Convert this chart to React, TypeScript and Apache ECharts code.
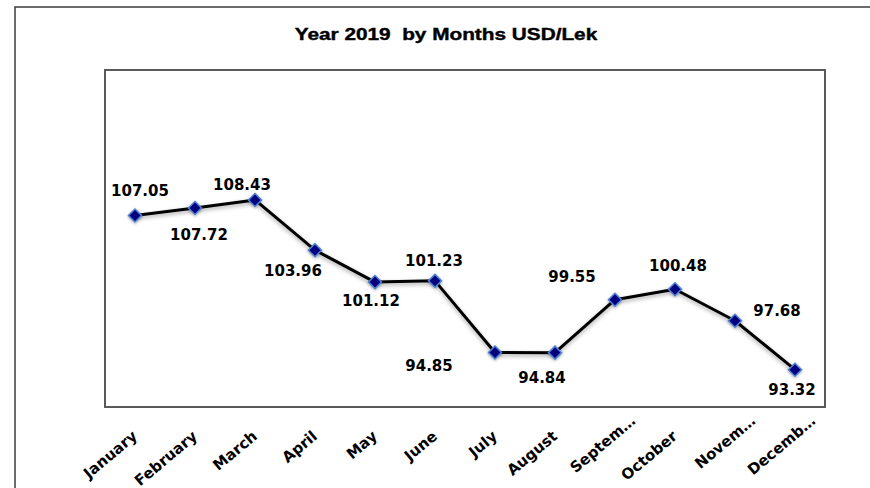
import React, { useEffect, useRef } from "react";
import * as echarts from "echarts";

const titleText = "Year 2019  by Months USD/Lek";
const tickLabels = [
  "January", "February", "March", "April", "May", "June",
  "July", "August", "Septem…", "October", "Novem…", "Decemb…",
];
const rateValues = [107.05, 107.72, 108.43, 103.96, 101.12, 101.23, 94.85, 94.84, 99.55, 100.48, 97.68, 93.32];

// label offsets (styling only) relative to each marker
const labelOffsets: number[][] = [
  [5, -24], [4, 27], [-13, -15], [-22, 21], [-4, 19], [-1, -20],
  [-66, 13], [-13, 25], [-43, -23], [3, -23], [42, -10], [-3, 20],
];

export default function App() {
  const ref = useRef<HTMLDivElement>(null);
  useEffect(() => {
    if (!ref.current) return;
    const chart = echarts.init(ref.current, undefined, { renderer: "svg" });
    chart.setOption({
      animation: false,
      backgroundColor: "#ffffff",
      graphic: [
        {
          type: "rect",
          shape: { x: 15, y: 7, width: 1000, height: 700 },
          style: { fill: "none", stroke: "#3c3c3c", lineWidth: 1.5 },
          silent: true,
        },
        {
          type: "text",
          x: 446,
          y: 34,
          scaleX: 1.26,
          style: {
            text: titleText,
            fontFamily: "Liberation Sans, Arial, sans-serif",
            fontWeight: "bold",
            fontSize: 16.5,
            fill: "#000",
            stroke: "#000",
            lineWidth: 0.4,
            textAlign: "center",
            textVerticalAlign: "middle",
          },
        },
      ],
      grid: {
        show: true,
        left: 105,
        top: 70,
        width: 720,
        height: 337,
        outerBoundsMode: "none",
        containLabel: false,
        borderColor: "#5a5a5a",
        borderWidth: 2,
        backgroundColor: "transparent",
      },
      xAxis: {
        type: "category",
        data: tickLabels.map((t) =>
          t.endsWith("…") ? { value: t, textStyle: { padding: [0, -24, 0, 0] } } : t
        ),
        boundaryGap: true,
        axisLine: { show: false },
        axisTick: { show: false },
        splitLine: { show: false },
        axisLabel: {
          interval: 0,
          rotate: 40,
          margin: 27,
          color: "#000",
          fontFamily: "DejaVu Sans",
          fontWeight: "bold",
          fontSize: 15,
        },
      },
      yAxis: {
        type: "value",
        min: 90,
        max: 120,
        show: false,
        splitLine: { show: false },
      },
      series: [
        {
          type: "line",
          data: rateValues.map((v, i) => ({
            value: v,
            label: { offset: labelOffsets[i] },
          })),
          symbol: "diamond",
          symbolSize: 13,
          lineStyle: {
            color: "#000",
            width: 3,
            shadowColor: "rgba(0,0,0,0.35)",
            shadowBlur: 4,
            shadowOffsetY: 2,
          },
          itemStyle: {
            color: "#00007f",
            borderColor: "#4f81d0",
            borderWidth: 1.5,
            shadowColor: "rgba(0,0,0,0.35)",
            shadowBlur: 3,
            shadowOffsetY: 1,
          },
          label: {
            show: true,
            position: "inside",
            color: "#000",
            textBorderWidth: 0,
            fontFamily: "DejaVu Sans",
            fontWeight: "bold",
            fontSize: 15,
            formatter: (p: any) => Number(p.value).toFixed(2),
          },
          emphasis: { disabled: true },
        },
      ],
    });
    return () => chart.dispose();
  }, []);
  return (
    <div
      ref={ref}
      style={{ position: "absolute", left: 0, top: 0, width: 870, height: 488 }}
    />
  );
}
